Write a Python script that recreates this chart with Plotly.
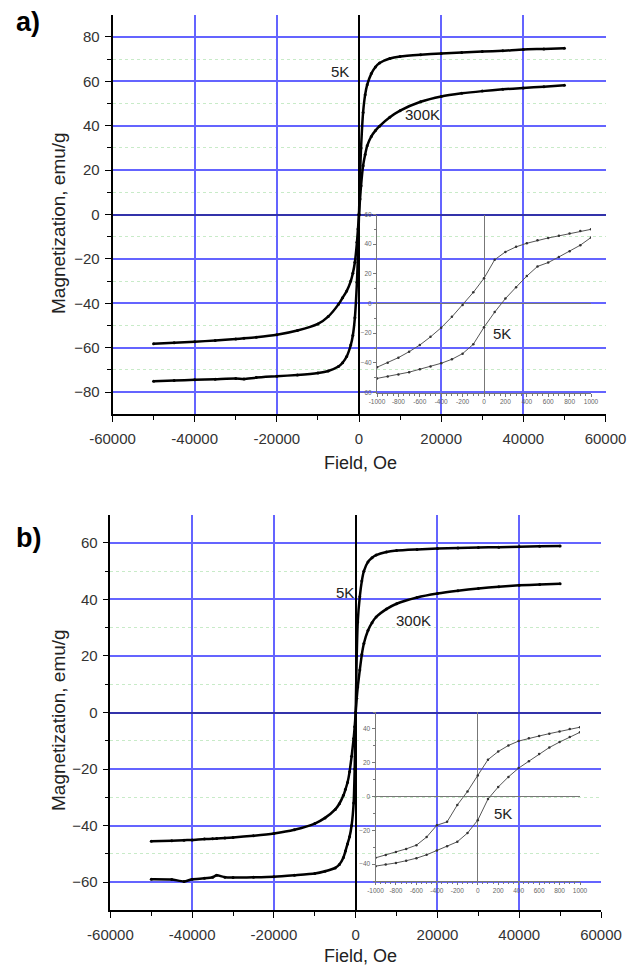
import plotly.graph_objects as go

# ---------------- data ----------------
# Panel a, main loops (field in Oe, magnetization in emu/g)
field_a = [-50000, -45000, -40000, -35000, -30000, -28000, -25000, -20000, -15000, -10000,
           -7500, -5000, -4000, -3000, -2000, -1500, -1000, -500, -250, 0,
           250, 500, 1000, 1500, 2000, 3000, 4000, 5000, 7500, 10000,
           15000, 20000, 25000, 30000, 35000, 40000, 45000, 50000]
m5k_a = [-75.1, -74.8, -74.5, -74.2, -73.9, -74.1, -73.5, -72.9, -72.3, -71.4,
         -70.5, -68.5, -66.8, -64.0, -58.8, -54.5, -46.5, -30.5, -18.0, 0.0,
         18.0, 30.0, 46.0, 54.0, 58.5, 63.5, 66.5, 68.3, 70.3, 71.2,
         72.0, 72.6, 73.0, 73.4, 73.8, 74.4, 74.6, 74.9]
m300k_a = [-58.2, -57.8, -57.3, -56.8, -56.1, -55.8, -55.3, -54.2, -52.3, -49.3,
           -46.0, -40.5, -37.5, -34.5, -30.0, -26.5, -21.5, -12.5, -6.5, 0.0,
           7.0, 13.0, 22.0, 27.0, 31.0, 35.2, 37.8, 39.8, 43.8, 46.8,
           50.8, 53.2, 54.6, 55.6, 56.4, 57.0, 57.6, 58.2]

# Panel b, main loops
field_b = [-50000, -45000, -42000, -40000, -37000, -35000, -34000, -32000, -30000, -25000,
           -20000, -15000, -10000, -7500, -5000, -4000, -3000, -2500, -2000, -1500,
           -1000, -500, -250, 0, 250, 500, 1000, 1500, 2000, 3000,
           4000, 5000, 7500, 10000, 15000, 20000, 25000, 30000, 35000, 40000,
           45000, 50000]
m5k_b = [-59.0, -59.1, -59.8, -59.0, -58.7, -58.3, -57.6, -58.3, -58.4, -58.3,
         -58.1, -57.6, -57.0, -56.2, -55.0, -53.8, -51.3, -49.0, -46.5, -44.0,
         -40.0, -32.0, -20.0, 0.0, 20.0, 32.0, 41.0, 46.5, 50.0, 53.3,
         54.8, 55.7, 56.8, 57.3, 57.7, 58.0, 58.2, 58.4, 58.5, 58.7,
         58.8, 58.9]
m300k_b = [-45.6, -45.4, -45.2, -45.1, -44.8, -44.7, -44.6, -44.4, -44.2, -43.6,
           -42.8, -41.5, -39.3, -37.3, -34.3, -32.3, -29.3, -27.2, -24.8, -21.0,
           -15.5, -9.2, -5.0, 0.0, 5.0, 9.0, 15.0, 20.5, 24.4, 29.0,
           31.8, 33.8, 36.6, 38.5, 40.7, 42.1, 43.1, 43.9, 44.5, 45.0,
           45.3, 45.6]

# Insets: 5K loop at low field
inset_field = [-1000, -900, -800, -700, -600, -500, -400, -300, -200, -100, 0,
               100, 200, 300, 400, 500, 600, 700, 800, 900, 1000]
inset_a_upper = [-43.0, -40.0, -36.5, -32.5, -28.0, -22.5, -16.3, -9.0, -1.0, 7.5, 17.0,
                 29.5, 34.8, 38.2, 40.6, 42.6, 44.2, 45.6, 47.2, 48.8, 50.0]
inset_a_lower = [-50.5, -49.2, -47.9, -46.3, -44.3, -42.4, -40.3, -37.6, -33.8, -27.5, -16.0,
                 -5.8, 3.3, 11.0, 18.5, 25.0, 27.6, 31.4, 35.3, 39.3, 44.5]
inset_b_upper = [-36.3, -34.6, -32.8, -31.0, -28.8, -24.0, -17.0, -15.0, -5.0, 3.0, 12.5,
                 21.8, 26.6, 30.2, 32.8, 34.5, 35.8, 37.2, 38.5, 40.0, 41.0]
inset_b_lower = [-41.2, -40.3, -39.3, -38.0, -36.5, -34.5, -32.0, -29.5, -26.8, -21.6, -14.0,
                 -1.5, 5.6, 11.6, 16.8, 20.9, 25.1, 29.0, 32.2, 35.2, 38.0]

main_xticks = [-60000, -40000, -20000, 0, 20000, 40000, 60000]
inset_xticks = [-1000, -800, -600, -400, -200, 0, 200, 400, 600, 800, 1000]

# ---------------- figure ----------------
W, H = 631, 969
FONT = "Liberation Sans, Arial, sans-serif"
BLUE = "rgb(100,100,255)"
ZERO_BLUE = "rgb(50,50,170)"
GREEN = "rgb(200,235,200)"


def px(v, total):
    return v / total


fig = go.Figure()

main_line = dict(color="black", width=2.5, shape="spline", smoothing=0.6)
main_marker = dict(color="black", size=3)
inset_line = dict(color="#555", width=1)
inset_marker = dict(color="#333", size=2.5)

# panel a
for m in (m5k_a, m300k_a):
    fig.add_trace(go.Scatter(x=field_a, y=m, mode="lines+markers", line=main_line,
                             marker=main_marker, xaxis="x", yaxis="y", showlegend=False))
# panel b
for m in (m5k_b, m300k_b):
    fig.add_trace(go.Scatter(x=field_b, y=m, mode="lines+markers", line=main_line,
                             marker=main_marker, xaxis="x2", yaxis="y2", showlegend=False))
# inset a
for m in (inset_a_upper, inset_a_lower):
    fig.add_trace(go.Scatter(x=inset_field, y=m, mode="lines+markers", line=inset_line,
                             marker=inset_marker, xaxis="x3", yaxis="y3", showlegend=False))
# inset b
for m in (inset_b_upper, inset_b_lower):
    fig.add_trace(go.Scatter(x=inset_field, y=m, mode="lines+markers", line=inset_line,
                             marker=inset_marker, xaxis="x4", yaxis="y4", showlegend=False))


def main_x(dom, anchor):
    return dict(domain=dom, anchor=anchor, range=[-60000, 60000], automargin=False,
                tickvals=main_xticks, ticktext=[str(v) for v in main_xticks],
                showgrid=True, gridcolor=BLUE, gridwidth=1.5,
                zeroline=True, zerolinecolor="black", zerolinewidth=1.6,
                showline=True, linecolor="black", linewidth=1.6,
                ticks="outside", ticklen=6, tickwidth=1.4, tickcolor="black",
                minor=dict(dtick=10000, tick0=0, ticks="outside", ticklen=4,
                           tickwidth=1.2, tickcolor="black", showgrid=False),
                tickfont=dict(family=FONT, size=15, color="#333"),
                ticklabelstandoff=4, fixedrange=True)


def main_y(dom, anchor, lim):
    return dict(domain=dom, anchor=anchor, range=[-lim, lim], dtick=20, tick0=0,
                automargin=False,
                showgrid=True, gridcolor=BLUE, gridwidth=1.5,
                zeroline=True, zerolinecolor=ZERO_BLUE, zerolinewidth=2,
                showline=True, linecolor="black", linewidth=1.6,
                ticks="outside", ticklen=6, tickwidth=1.4, tickcolor="black",
                minor=dict(dtick=10, tick0=0, ticks="outside", ticklen=4,
                           tickwidth=1.2, tickcolor="black", showgrid=True,
                           gridcolor=GREEN, griddash="dot", gridwidth=1.2),
                tickfont=dict(family=FONT, size=15, color="#333"),
                ticklabelstandoff=2, fixedrange=True)


def inset_x(dom, anchor):
    return dict(domain=dom, anchor=anchor, range=[-1000, 1000], automargin=False,
                tickvals=inset_xticks, ticktext=[str(v) for v in inset_xticks],
                showgrid=False, zeroline=True, zerolinecolor="#777", zerolinewidth=1,
                showline=True, linecolor="#777", linewidth=1,
                ticks="outside", ticklen=3, tickwidth=1, tickcolor="#777",
                minor=dict(dtick=50, tick0=0, ticks="outside", ticklen=2,
                           tickwidth=1, tickcolor="#777"),
                tickfont=dict(family=FONT, size=6.5, color="#666"),
                ticklabelstandoff=0, fixedrange=True)


def inset_y(dom, anchor, lim):
    return dict(domain=dom, anchor=anchor, range=[-lim, lim], dtick=20, tick0=0,
                automargin=False,
                showgrid=False, zeroline=True, zerolinecolor="#777", zerolinewidth=1,
                showline=True, linecolor="#777", linewidth=1,
                ticks="outside", ticklen=3, tickwidth=1, tickcolor="#777",
                minor=dict(dtick=10, tick0=0, ticks="outside", ticklen=2,
                           tickwidth=1, tickcolor="#777"),
                tickfont=dict(family=FONT, size=6.5, color="#666"),
                ticklabelstandoff=0, fixedrange=True)


# pixel geometry of the panels
ax_a = [112.5, 605.5]; ay_a = [15, 414]
ax_b = [110.4, 601.0]; ay_b = [515, 910]
ix_a = [377, 591]; iy_a = [214.5, 392.5]
ix_b = [375.5, 580]; iy_b = [712, 881]


def xd(p):
    return [px(p[0], W), px(p[1], W)]


def yd(p):
    return [1 - px(p[1], H), 1 - px(p[0], H)]


fig.update_layout(
    width=W, height=H,
    margin=dict(l=0, r=0, t=0, b=0, pad=0, autoexpand=False),
    paper_bgcolor="white", plot_bgcolor="rgba(0,0,0,0)",
    font=dict(family=FONT, color="#222"),
    xaxis=main_x(xd(ax_a), "y"),
    yaxis=main_y(yd(ay_a), "x", 89.9),
    xaxis2=main_x(xd(ax_b), "y2"),
    yaxis2=main_y(yd(ay_b), "x2", 69.9),
    xaxis3=inset_x(xd(ix_a), "y3"),
    yaxis3=inset_y(yd(iy_a), "x3", 60),
    xaxis4=inset_x(xd(ix_b), "y4"),
    yaxis4=inset_y(yd(iy_b), "x4", 50),
)

ann = []
lab = dict(family=FONT, size=15, color="#222")
# curve labels
ann.append(dict(x=-4650, y=64.4, xref="x", yref="y", text="5K", showarrow=False, font=lab))
ann.append(dict(x=15400, y=45, xref="x", yref="y", text="300K", showarrow=False, font=lab))
ann.append(dict(x=168, y=-20, xref="x3", yref="y3", text="5K", showarrow=False, font=lab))
ann.append(dict(x=-2700, y=42.3, xref="x2", yref="y2", text="5K", showarrow=False, font=lab))
ann.append(dict(x=14240, y=32.4, xref="x2", yref="y2", text="300K", showarrow=False, font=lab))
ann.append(dict(x=247, y=-10, xref="x4", yref="y4", text="5K", showarrow=False, font=lab))
# panel letters
for txt, cy in (("a)", 22), ("b)", 538)):
    ann.append(dict(x=px(28, W), y=1 - px(cy, H), xref="paper", yref="paper", text="<b>%s</b>" % txt,
                    showarrow=False, font=dict(family=FONT, size=27, color="black"),
                    xanchor="center", yanchor="middle"))
# axis titles
for cy in (223, 720):
    ann.append(dict(x=px(58, W), y=1 - px(cy, H), xref="paper", yref="paper",
                    text="Magnetization, emu/g", textangle=-90, showarrow=False,
                    font=dict(family=FONT, size=19, color="#222"),
                    xanchor="center", yanchor="middle"))
for cy in (463, 956):
    ann.append(dict(x=px(360, W), y=1 - px(cy, H), xref="paper", yref="paper",
                    text="Field, Oe", showarrow=False,
                    font=dict(family=FONT, size=18, color="#222"),
                    xanchor="center", yanchor="middle"))
fig.update_layout(annotations=ann)

fig.write_html("out.html", config={"displayModeBar": False},
               post_script="document.body.style.margin='0px';document.body.style.overflow='hidden';")
